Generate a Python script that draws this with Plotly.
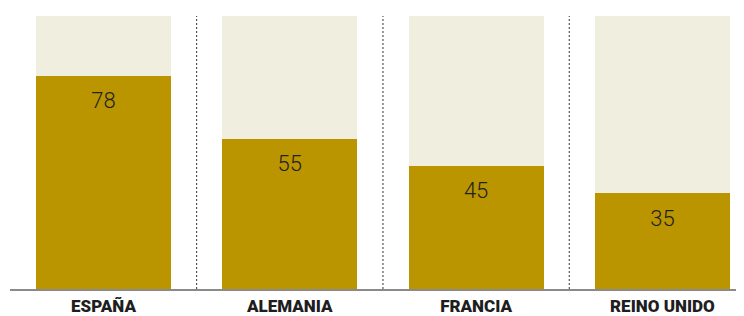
import plotly.graph_objects as go

categories = ["ESPAÑA", "ALEMANIA", "FRANCIA", "REINO UNIDO"]
values = [78, 55, 45, 35]
totals = [100, 100, 100, 100]

xs = list(range(len(categories)))
bar_w = 0.725

fig = go.Figure()
fig.add_trace(go.Bar(x=xs, y=totals, width=bar_w, marker=dict(color="#F0EEDE", line_width=0),
                     hoverinfo="skip", showlegend=False))
fig.add_trace(go.Bar(x=xs, y=values, width=bar_w, marker=dict(color="#BA9500", line_width=0),
                     showlegend=False))
fig.add_trace(go.Scatter(x=xs, y=[v - 9.8 for v in values], mode="text",
                         text=[str(v) for v in values], textposition="middle center",
                         textfont=dict(family="Roboto", size=22, color="#222222", weight=300),
                         showlegend=False, hoverinfo="skip"))

for i in range(len(categories) - 1):
    fig.add_shape(type="line", x0=i + 0.5, x1=i + 0.5, y0=0, y1=100, xref="x", yref="y",
                  line=dict(color="#333333", width=1, dash="2px,2px"))

fig.update_layout(
    width=744, height=316,
    margin=dict(l=2, r=8, t=8, b=35, autoexpand=False),
    paper_bgcolor="white", plot_bgcolor="white",
    barmode="overlay", bargap=0,
    xaxis=dict(range=[-0.502, 3.438], tickmode="array", tickvals=xs, ticktext=categories,
               showgrid=False, zeroline=False, showline=True, linecolor="#8a8a8a", linewidth=2,
               ticks="outside", ticklen=1, tickcolor="rgba(0,0,0,0)",
               tickfont=dict(family="Roboto", size=17, color="#1e1e1e", weight=900)),
    yaxis=dict(range=[0, 100], visible=False, showgrid=False, zeroline=False),
)

fig.write_html("out.html")
